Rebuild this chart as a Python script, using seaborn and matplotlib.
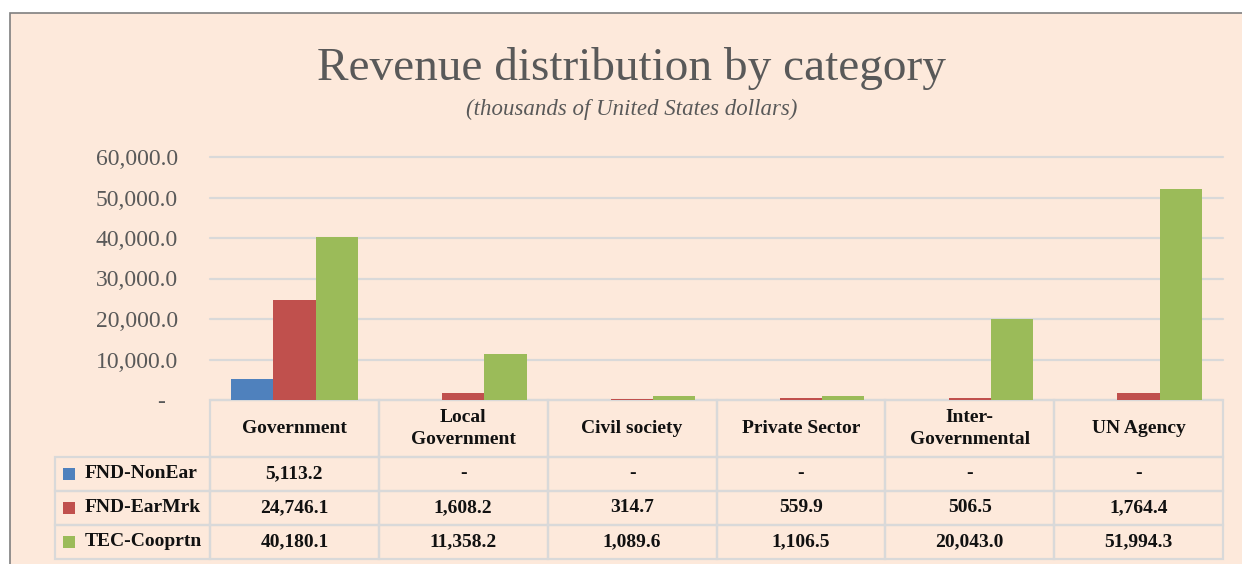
import matplotlib
matplotlib.use("Agg")
import matplotlib.pyplot as plt
import pandas as pd
import seaborn as sns
from matplotlib.patches import Rectangle
from matplotlib.table import Table

# data (thousands of USD)
categories = ["Government", "Local\nGovernment", "Civil society", "Private Sector",
              "Inter-\nGovernmental", "UN Agency"]
series = ["FND-NonEar", "FND-EarMrk", "TEC-Cooprtn"]
fnd_nonear = [5113.2, 0, 0, 0, 0, 0]
fnd_earmrk = [24746.1, 1608.2, 314.7, 559.9, 506.5, 1764.4]
tec_cooprtn = [40180.1, 11358.2, 1089.6, 1106.5, 20043.0, 51994.3]
yticks = [0, 10000, 20000, 30000, 40000, 50000, 60000]

colors = ["#4F81BD", "#C0504D", "#9BBB59"]
BG = "#FDE9DB"
GRID = "#D9D9D9"
GREY = "#595959"
W, H = 1242, 564

sns.set_theme(style="white")
plt.rcParams["font.family"] = ["Liberation Serif", "DejaVu Serif"]


def px(x0, y0, x1, y1):
    return [x0 / W, 1 - y1 / H, (x1 - x0) / W, (y1 - y0) / H]


fig = plt.figure(figsize=(W / 100, H / 100), dpi=100, facecolor="white")
fig.patches.append(Rectangle((10 / W, -0.05), 1.1, 1.05 - 13 / H, transform=fig.transFigure,
                             facecolor=BG, edgecolor="#7F7F7F", linewidth=1.2, zorder=-10))

ax = fig.add_axes(px(210, 157, 1223, 400))
ax.set_facecolor("none")

values = [fnd_nonear, fnd_earmrk, tec_cooprtn]
df = pd.DataFrame({
    "category": categories * len(series),
    "series": [s for s in series for _ in categories],
    "value": [v for vals in values for v in vals],
})
sns.barplot(data=df, x="category", y="value", hue="series", hue_order=series,
            palette=colors, saturation=1, width=0.75, gap=0, linewidth=0,
            legend=False, ax=ax)

ax.set_ylim(0, 60000)
ax.set_yticks(yticks)
ax.set_yticklabels([f"{t:,.1f}" if t else "-  " for t in yticks])
ax.tick_params(axis="y", length=0, pad=23, labelsize=17, labelcolor=GREY)
ax.tick_params(axis="x", length=0, labelbottom=False)
ax.set_xlabel("")
ax.set_ylabel("")
ax.yaxis.grid(True, color=GRID, linewidth=1.6)
for gl in ax.get_ygridlines():
    gl.set_clip_on(False)
ax.set_axisbelow(True)
sns.despine(ax=ax, left=True, bottom=True)

# data table under the bars, Excel style
col0_w, col_w = 155, (1223 - 210) / 6
head_h, row_h = 57, 34
tb = Table(ax, bbox=[(55 - 210) / 1013, -159 / 243, (1223 - 55) / 1013, 159 / 243])
for j, cat in enumerate(categories, start=1):
    tb.add_cell(0, j, col_w, head_h, text=cat, loc="center")
for i, (name, vals) in enumerate(zip(series, values), start=1):
    c = tb.add_cell(i, 0, col0_w, row_h, text=name, loc="left")
    c.PAD = 0.19
    for j, v in enumerate(vals, start=1):
        tb.add_cell(i, j, col_w, row_h, text=f"{v:,.1f}" if v else "-", loc="center")
tb.auto_set_font_size(False)
tb.set_fontsize(14)
for cell in tb.get_celld().values():
    cell.set_edgecolor(GRID)
    cell.set_linewidth(1.6)
    cell.set_facecolor("none")
    cell.set_clip_on(False)
    txt = cell.get_text()
    txt.set_fontweight("bold")
    txt.set_color("#111111")
    txt.set_linespacing(1.45)
ax.add_table(tb)

# legend keys in the row label cells
for i, c in enumerate(colors):
    yc = 457 + row_h * i + row_h / 2
    fig.patches.append(Rectangle((63 / W, 1 - (yc + 6) / H), 12 / W, 12 / H,
                                 transform=fig.transFigure, facecolor=c, edgecolor="none"))

fig.text(631 / W, 1 - 80 / H, "Revenue distribution by category", ha="center",
         va="baseline", fontsize=34, color=GREY)
fig.text(632 / W, 1 - 115 / H, "(thousands of United States dollars)", ha="center",
         va="baseline", fontsize=16.5, style="italic", color=GREY)

fig.savefig("out.png", dpi=100, facecolor=fig.get_facecolor())
